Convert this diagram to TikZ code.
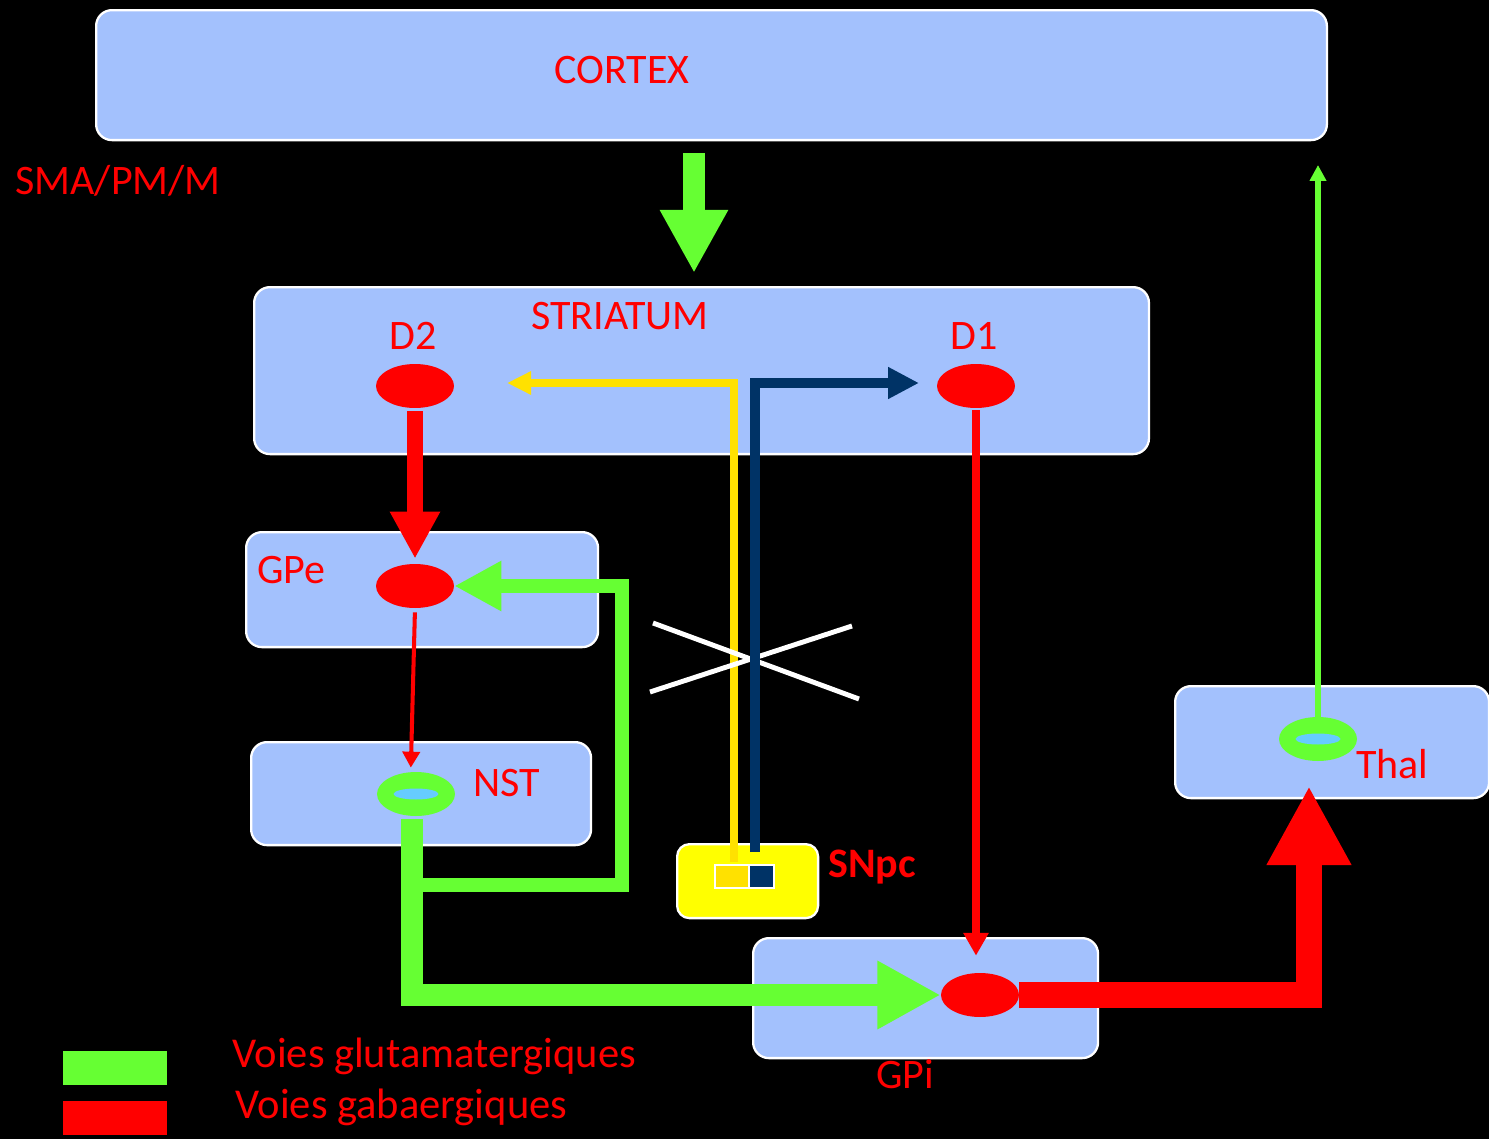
\documentclass[tikz,border=0pt]{standalone}
\usepackage{fontspec}
\setmainfont{Carlito}
\usetikzlibrary{arrows.meta,shapes.geometric}
\definecolor{boxblue}{RGB}{163,193,253}
\definecolor{glu}{RGB}{102,255,51}
\definecolor{gaba}{RGB}{255,0,0}
\definecolor{dayel}{RGB}{255,225,0}
\definecolor{danavy}{RGB}{0,51,102}
\definecolor{corecol}{RGB}{102,204,255}
\definecolor{snyel}{RGB}{255,255,0}
\begin{document}
\begin{tikzpicture}[x=0.02cm,y=-0.02cm,
  region/.style={draw=white, line width=1.3pt, fill=boxblue, rounded corners=9pt, anchor=north west, inner sep=0pt},
  lbl/.style={text=gaba, font=\fontsize{23.9}{28}\selectfont, inner sep=0pt},
  leglbl/.style={text=gaba, font=\fontsize{24.2}{28}\selectfont, inner sep=0pt, anchor=west},
  cell/.style={ellipse, fill=gaba, inner sep=0pt, minimum width=1.56cm, minimum height=0.88cm},
  ring/.style={ellipse, fill=glu, inner sep=0pt, minimum width=1.56cm, minimum height=0.88cm},
  ringcore/.style={ellipse, fill=corecol, inner sep=0pt, minimum width=0.9cm, minimum height=0.22cm},
  legbox/.style={anchor=north west, inner sep=0pt, minimum width=2.08cm, minimum height=0.68cm},
  gluBig/.style={draw=glu, line width=12pt, line join=miter, -{Triangle[width=36.4pt,length=36pt]}},
  gluMid/.style={draw=glu, line width=8.5pt, line join=miter, -{Triangle[width=26.7pt,length=26.7pt]}},
  gluThin/.style={draw=glu, line width=3.2pt, -{Triangle[width=9pt,length=9pt]}},
  gabaBig/.style={draw=gaba, line width=14.8pt, line join=miter, -{Triangle[width=45pt,length=45pt]}},
  gabaMid/.style={draw=gaba, line width=9.1pt, -{Triangle[width=26.7pt,length=26.7pt]}},
  gabaThin/.style={draw=gaba, line width=2.3pt, -{Triangle[width=9.7pt,length=9.1pt]}},
  gabaMed/.style={draw=gaba, line width=4pt, -{Triangle[width=13.7pt,length=13pt]}},
  dayelArr/.style={draw=dayel, line width=5.1pt, line join=miter, -{Triangle[width=12.5pt,length=13.7pt]}},
  navyArr/.style={draw=danavy, line width=5.4pt, line join=miter, -{Triangle[width=17pt,length=17.6pt]}},
  crossline/.style={draw=white, line width=2.8pt}
]
\useasboundingbox (0,0) rectangle (1489,1139);
\fill[black] (0,0) rectangle (1489,1139);

% regions
\node[region, minimum width=24.62cm, minimum height=2.6cm] (cortex) at (95,9) {};
\node[region, minimum width=17.9cm, minimum height=3.34cm] (striatum) at (253,286) {};
\node[region, minimum width=7.04cm, minimum height=2.3cm] (gpe) at (245,531) {};
\node[region, minimum width=6.8cm, minimum height=2.06cm] (nst) at (250,741) {};
\node[region, minimum width=6.9cm, minimum height=2.4cm] (gpi) at (752,937) {};
\node[region, minimum width=6.28cm, minimum height=2.24cm] (thal) at (1174,685) {};
\node[region, fill=snyel, rounded corners=7pt, minimum width=2.82cm, minimum height=1.48cm] (snpc) at (676,843) {};

% labels
\node[lbl] (tcortex) at (622,70) {CORTEX};
\node[lbl, anchor=west] (tsma) at (15,181) {SMA/PM/M};
\node[lbl] (tstr) at (620,316) {STRIATUM};
\node[lbl] (td2) at (413,336) {D2};
\node[lbl] (td1) at (974,336) {D1};
\node[lbl, anchor=west] (tgpe) at (257,570) {GPe};
\node[lbl, anchor=west] (tnst) at (473,783) {NST};
\node[lbl, anchor=west] (tthal) at (1356,764) {Thal};
\node[lbl] (tgpi) at (905,1074) {GPi};
\node[lbl, anchor=west, font=\fontsize{23.9}{28}\selectfont\bfseries] (tsnpc) at (828,867) {SNpc};

% coordinates for free ends
\coordinate (cxs) at (694,153);
\coordinate (cxe) at (694,273);
\coordinate (ys) at (734,862);
\coordinate (ytip) at (507,383);
\coordinate (ns) at (755,852);
\coordinate (ntip) at (919,383);
\coordinate (nstout) at (412,819);
\coordinate (brA) at (412,885);
\coordinate (brC) at (622,586);
\coordinate (thaltip) at (1309,786);
\coordinate (thalup) at (1317,165);
\coordinate (xa) at (653,623);
\coordinate (xb) at (859,699);
\coordinate (xc) at (650,692);
\coordinate (xd) at (852,626);

% cells
\node[cell] (d2c) at (415,386) {};
\node[cell] (d1c) at (976,386) {};
\node[cell] (gpec) at (415,586) {};
\node[cell] (gpic) at (980,995) {};
\node[ring] (nstr) at (416,794) {};
\node[ringcore] (nstcore) at (416,794) {};
\node[ring] (thalr) at (1318,739) {};
\node[ringcore] (thalcore) at (1318,739) {};

% SNpc inner squares
\node[draw=white, line width=1.3pt, fill=dayel, anchor=north west, inner sep=0pt, minimum width=0.68cm, minimum height=0.46cm] (sqy) at (714,864) {};
\node[draw=white, line width=1.3pt, fill=danavy, anchor=north west, inner sep=0pt, minimum width=0.5cm, minimum height=0.46cm] (sqn) at (748,864) {};

% cortex -> striatum
\draw[gluBig] (cxs) -- (cxe);
% dopamine pathways
\draw[dayelArr] (ys) |- (ytip);
\draw[crossline] (xa) -- (xb);
\draw[crossline] (xc) -- (xd);
\draw[navyArr] (ns) |- (ntip);
% indirect pathway
\draw[gabaMid, shorten <=0.06cm, shorten >=0.1cm] (d2c.south) -- (gpec.north);
\draw[gabaThin, shorten <=0.08cm, shorten >=0.08cm] (gpec.south) -- ([xshift=-3pt]nstr.north);
\draw[gluMid] (brA) -| (brC) -- (gpec.east);
\draw[gluBig] (nstout) |- (gpic.west);
% direct pathway
\draw[gabaMed, shorten <=0.04cm, shorten >=0.34cm] (d1c.south) -- (d1c.south |- gpic.north);
% output
\draw[gabaBig] (gpic.east) -| (thaltip);
\draw[gluThin] (thalr.north) -- (thalr.north |- thalup);

% legend
\node[legbox, fill=glu] (legg) at (63,1051) {};
\node[legbox, fill=gaba] (legr) at (63,1101) {};
\node[leglbl] (tlegg) at (232,1056) {Voies glutamatergiques};
\node[leglbl] (tlegr) at (235,1107) {Voies gabaergiques};
\end{tikzpicture}
\end{document}
